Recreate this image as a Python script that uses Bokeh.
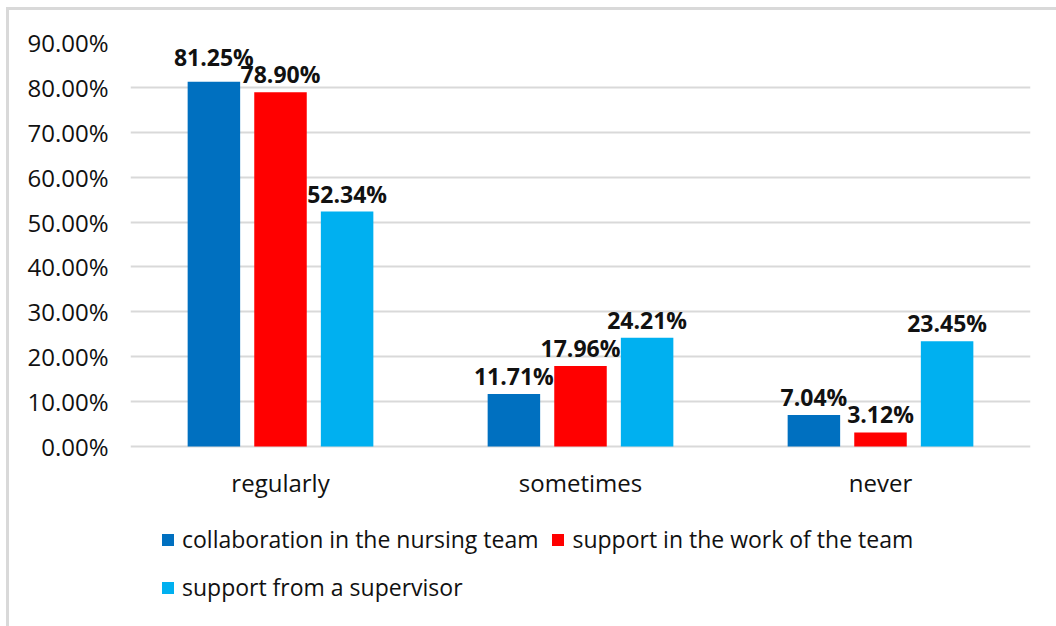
from bokeh.plotting import figure
from bokeh.models import (FactorRange, Range1d, FixedTicker, PrintfTickFormatter,
                          Legend, LegendItem, ColumnDataSource, InlineStyleSheet)
from bokeh.transform import dodge
from bokeh.core.properties import value
from bokeh.embed import file_html
from bokeh.resources import INLINE

categories = ["regularly", "sometimes", "never"]
series_names = ["collaboration in the nursing team",
                "support in the work of the team",
                "support from a supervisor"]
collaboration = [81.25, 11.71, 7.04]
support_team = [78.90, 17.96, 3.12]
support_supervisor = [52.34, 24.21, 23.45]
y_ticks = [0, 10, 20, 30, 40, 50, 60, 70, 80, 90]

# styles
colors = ["#0070C0", "#FF0000", "#00B0F0"]
offsets = [-0.222, 0.0, 0.222]
label_lift = [[9, 2, 2], [2, 2, 2], [2, 2, 2]]  # px above bar top (Excel nudges overlapping label)
series = [collaboration, support_team, support_supervisor]

FONT = "Open Sans"
TXT = "#111111"

# frame extends below the value axis to hold category labels and legend
p = figure(x_range=FactorRange(*categories, range_padding=0),
           y_range=Range1d(-40.1, 90),
           width=1056, height=626,
           min_border_left=130, min_border_right=26,
           min_border_top=42, min_border_bottom=0,
           output_backend="svg", toolbar_location=None,
           background_fill_color="white", border_fill_color="white")
p.outline_line_color = None

renderers = []
for name, vals, col, off, lift in zip(series_names, series, colors, offsets, label_lift):
    src = ColumnDataSource(dict(cat=categories, val=vals,
                                lab=[f"{v:.2f}%" for v in vals],
                                yo=[-l for l in lift]))
    r = p.vbar(x=dodge("cat", off, range=p.x_range), top="val", width=0.175,
               source=src, fill_color=col, line_color=None)
    renderers.append(r)
    p.text(x=dodge("cat", off, range=p.x_range), y="val", text="lab", source=src,
           y_offset="yo",
           text_align="center", text_baseline="bottom",
           text_font=value(FONT), text_font_style="bold",
           text_font_size="23px", text_color=TXT)

# category labels under the zero line
cat_src = ColumnDataSource(dict(cat=categories, zero=[0] * len(categories)))
p.text(x="cat", y="zero", text="cat", source=cat_src, y_offset=36,
       text_align="center", text_baseline="middle",
       text_font=value(FONT), text_font_size="24px", text_color=TXT)

# axes
p.xaxis.visible = False
p.yaxis.ticker = FixedTicker(ticks=y_ticks)
p.yaxis.formatter = PrintfTickFormatter(format="%.2f%%")
ax = p.yaxis
ax.axis_line_color = None
ax.major_tick_line_color = None
ax.minor_tick_line_color = None
ax.major_tick_out = 0
ax.major_tick_in = 0
ax.major_label_text_font = FONT
ax.major_label_text_font_size = "24px"
ax.major_label_text_color = TXT
ax.major_label_standoff = 22

p.xgrid.grid_line_color = None
p.ygrid.grid_line_color = "#d9d9d9"
p.ygrid.grid_line_width = 2
p.ygrid.ticker = FixedTicker(ticks=y_ticks)

# column-major legend fill: col1 = items 0,2 ; col2 = item 1
order = [0, 2, 1]
items = [LegendItem(label=series_names[i], renderers=[renderers[i]]) for i in order]
legend = Legend(items=items, ncols=2, location=(30, 21),
                label_text_font=FONT, label_text_font_size="23px",
                label_text_color=TXT,
                glyph_width=15, glyph_height=15, label_standoff=7,
                label_height=36, spacing=12, padding=0, margin=0,
                border_line_color=None, background_fill_alpha=0)
p.add_layout(legend, "center")

p.stylesheets = [InlineStyleSheet(css=":host { position: relative; } :host::after { content: ''; position: absolute; left: 6px; top: 7px; right: -10px; bottom: -10px; border-left: 3px solid #d9d9d9; border-top: 3px solid #d9d9d9; pointer-events: none; }")]

open("out.html", "w").write(file_html(p, INLINE))
